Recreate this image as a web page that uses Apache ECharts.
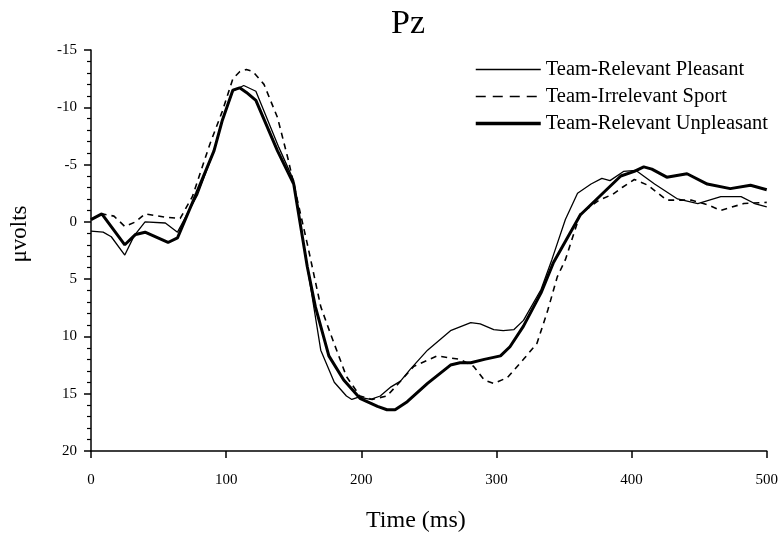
<!DOCTYPE html>
<html>
<head>
<meta charset="utf-8">
<script src="https://cdn.jsdelivr.net/npm/echarts@6/dist/echarts.min.js"></script>
<style>
  html, body { margin: 0; padding: 0; background: #fff; }
  #chart { width: 781px; height: 538px; }
</style>
</head>
<body>
<div id="chart"></div>
<script>
// ERP waveform at Pz, values as [time ms, microvolts]
var seriesNames = ["Team-Relevant Pleasant", "Team-Irrelevant Sport", "Team-Relevant Unpleasant"];

var pleasant = [
  [0, 0.8], [9, 0.9], [15, 1.3], [25, 2.9], [32, 1.2], [40, 0], [55, 0.1], [64, 0.9],
  [79, -2.4], [91, -6.2], [97, -8.9], [105, -11.4], [113, -11.9], [122, -11.4], [139, -6.5],
  [150, -3.6], [158, 2.5], [164, 6.8], [170, 11.2], [180, 14.0], [189, 15.2], [193, 15.5],
  [198, 15.3], [207, 15.5], [214, 15.2], [222, 14.4], [229, 13.9], [236, 12.9], [249, 11.2],
  [266, 9.5], [281, 8.8], [288, 8.9], [298, 9.4], [305, 9.5], [313, 9.4], [320, 8.6],
  [333, 5.9], [341, 3.3], [351, -0.2], [360, -2.5], [370, -3.3], [378, -3.8], [384, -3.6],
  [394, -4.4], [403, -4.5], [417, -3.3], [434, -2.0], [449, -1.6], [466, -2.2], [481, -2.2],
  [491, -1.6], [500, -1.3]
];

var sport = [
  [0, -0.2], [8, -0.7], [17, -0.5], [25, 0.4], [33, 0], [40, -0.7], [55, -0.4], [66, -0.3],
  [75, -2.2], [88, -6.8], [97, -9.6], [105, -12.5], [110, -13.1], [115, -13.3], [120, -13.1],
  [128, -12.0], [138, -9.1], [146, -5.4], [160, 1.9], [170, 7.4], [177, 9.7], [189, 13.5],
  [199, 15.2], [208, 15.5], [219, 15.2], [226, 14.3], [239, 12.6], [256, 11.7], [273, 12.0],
  [283, 12.6], [291, 13.8], [298, 14.1], [308, 13.6], [320, 12.0], [330, 10.6], [338, 7.7],
  [345, 4.8], [351, 3.3], [362, -0.7], [376, -1.9], [386, -2.4], [393, -3.0], [402, -3.7],
  [412, -3.2], [426, -1.9], [444, -1.9], [456, -1.5], [466, -1.0], [483, -1.6], [500, -1.7]
];

var unpleasant = [
  [0, -0.2], [8, -0.7], [25, 2.0], [33, 1.1], [40, 0.9], [57, 1.8], [64, 1.4], [78, -2.5],
  [91, -6.2], [97, -8.8], [105, -11.5], [110, -11.7], [115, -11.3], [122, -10.6], [138, -6.2],
  [150, -3.3], [160, 3.9], [166, 7.4], [176, 11.7], [187, 13.8], [199, 15.4], [212, 16.1],
  [219, 16.4], [225, 16.4], [234, 15.7], [249, 14.1], [266, 12.5], [273, 12.3], [281, 12.3],
  [291, 12.0], [303, 11.7], [310, 10.9], [320, 9.1], [333, 6.2], [342, 3.6], [362, -0.6],
  [377, -2.3], [392, -4.0], [402, -4.4], [409, -4.8], [415, -4.6], [426, -3.9], [441, -4.2],
  [456, -3.3], [473, -2.9], [488, -3.2], [500, -2.8]
];

var serif = "Liberation Serif";

var chart = echarts.init(document.getElementById("chart"));

var option = {
  backgroundColor: "#fff",
  animation: false,
  title: {
    text: "Pz",
    left: 386,
    top: 2,
    textStyle: { fontFamily: serif, fontSize: 34, fontWeight: "normal", color: "#000" }
  },
  legend: {
    orient: "vertical",
    left: 469,
    top: 54,
    itemWidth: 65,
    itemHeight: 14,
    itemGap: 6,
    itemStyle: { opacity: 0 },
    textStyle: { fontFamily: serif, fontSize: 20.5, lineHeight: 20, color: "#000" },
    data: [
      { name: seriesNames[0], lineStyle: { width: 1.3 } },
      { name: seriesNames[1], lineStyle: { width: 1.5, type: [10, 7] } },
      { name: seriesNames[2], lineStyle: { width: 3.5 } }
    ]
  },
  // y-axis title placed by hand, it sits above the middle of the axis
  graphic: [
    {
      type: "text",
      x: 20,
      y: 234,
      rotation: Math.PI / 2,
      style: {
        text: "μvolts",
        font: "23px 'Liberation Serif'",
        fill: "#000",
        textAlign: "center",
        textVerticalAlign: "middle"
      }
    }
  ],
  grid: { left: 91, right: 14, top: 50, bottom: 86 },
  xAxis: {
    type: "value",
    min: 0,
    max: 500,
    interval: 100,
    name: "Time (ms)",
    nameLocation: "middle",
    nameGap: 58,
    nameMoveOverlap: false,
    nameTextStyle: { fontFamily: serif, fontSize: 24, color: "#000", padding: [0, 26, 0, 0] },
    axisLine: { onZero: false, lineStyle: { color: "#000", width: 1.5 } },
    axisTick: { length: 7, lineStyle: { color: "#000", width: 1.5 } },
    splitLine: { show: false },
    axisLabel: { fontFamily: serif, fontSize: 15, color: "#000", margin: 22 }
  },
  yAxis: {
    type: "value",
    inverse: true,
    min: -15,
    max: 20,
    interval: 5,
    axisLine: { show: true, onZero: false, lineStyle: { color: "#000", width: 1.5 } },
    axisTick: { length: 7, lineStyle: { color: "#000", width: 1.5 } },
    minorTick: { show: true, splitNumber: 5, length: 4, lineStyle: { color: "#000", width: 1.2 } },
    splitLine: { show: false },
    axisLabel: { fontFamily: serif, fontSize: 15, color: "#000", margin: 14 }
  },
  series: [
    {
      name: seriesNames[0],
      type: "line",
      symbol: "none",
      lineStyle: { color: "#000", width: 1.3 },
      itemStyle: { color: "#000" },
      data: pleasant
    },
    {
      name: seriesNames[1],
      type: "line",
      symbol: "none",
      lineStyle: { color: "#000", width: 1.6, type: [6, 5] },
      itemStyle: { color: "#000" },
      data: sport
    },
    {
      name: seriesNames[2],
      type: "line",
      symbol: "none",
      lineStyle: { color: "#000", width: 3 },
      itemStyle: { color: "#000" },
      data: unpleasant
    }
  ]
};

chart.setOption(option);
</script>
</body>
</html>
